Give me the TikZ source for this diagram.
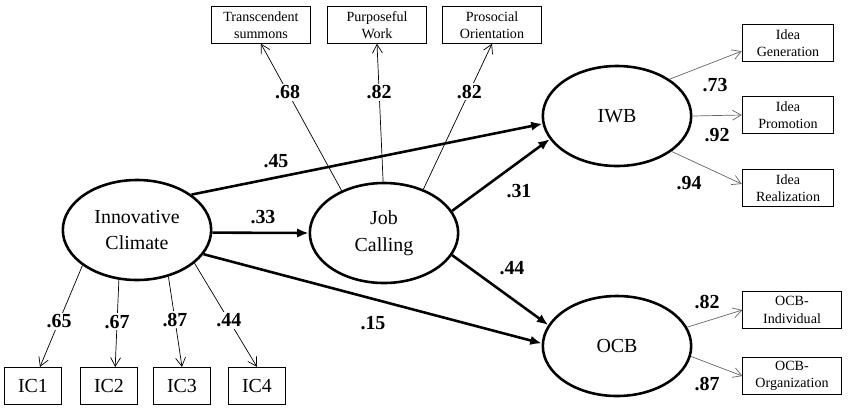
\documentclass[tikz,border=0pt]{standalone}
\usepackage{fontspec}
\setmainfont{Liberation Serif}
\usetikzlibrary{arrows.meta,shapes.geometric}

\begin{document}
\begin{tikzpicture}[x=0.03cm, y=-0.03cm,
    latent/.style={ellipse, draw, line width=2.2pt, minimum width=4.45cm, minimum height=3cm, align=center, font=\fontsize{17}{23}\selectfont},
    indic/.style={rectangle, draw, line width=0.7pt, minimum width=2.95cm, minimum height=1.1cm, align=center, font=\fontsize{12}{15}\selectfont},
    item/.style={rectangle, draw, line width=0.7pt, minimum width=1.72cm, minimum height=1.12cm, font=\fontsize{17}{20}\selectfont},
    causal/.style={line width=2.2pt, -{Latex[length=3.4mm,width=2.8mm]}},
    load/.style={line width=0.6pt, -{Straight Barb[length=2.6mm,width=3mm]}},
    greyload/.style={load, draw=black!60},
    lbl/.style={font=\fontsize{17}{20}\selectfont\bfseries, inner sep=1.5pt},
    cut/.style={lbl, fill=white}]
    \useasboundingbox (0,0) rectangle (850,412);

    \node[latent] (climate) at (137,230) {Innovative\\Climate};
    \node[latent] (calling) at (384,233) {Job\\Calling};
    \node[latent] (iwb) at (617,116) {IWB};
    \node[latent] (ocb) at (617,346) {OCB};

    \node[indic] (transcendent) at (261,25) {Transcendent\\summons};
    \node[indic] (purposeful) at (377,25) {Purposeful\\Work};
    \node[indic] (prosocial) at (492,25) {Prosocial\\Orientation};

    \node[indic, minimum width=2.75cm] (generation) at (788,43) {Idea\\Generation};
    \node[indic, minimum width=2.75cm] (promotion) at (788,115) {Idea\\Promotion};
    \node[indic, minimum width=2.75cm] (realization) at (788,188) {Idea\\Realization};

    \node[indic] (individual) at (792,310) {OCB-\\Individual};
    \node[indic] (organization) at (792,376) {OCB-\\Organization};

    \node[item] (ic1) at (33,386) {IC1};
    \node[item] (ic2) at (109,386) {IC2};
    \node[item] (ic3) at (182,386) {IC3};
    \node[item] (ic4) at (257,386) {IC4};

    \draw[causal] (climate.358) -- (calling.west);
    \draw[causal] (climate.33) -- (iwb.186);
    \draw[causal] (climate.340) -- (ocb.178);
    \draw[causal] (calling.18) -- (iwb.199);
    \draw[causal] (calling.342) -- (ocb.163);

    \node[lbl] at (276,161) {.45};
    \node[lbl] at (263,217) {.33};
    \node[lbl] at (519,191) {.31};
    \node[lbl] at (512,268) {.44};
    \node[lbl] at (373,323) {.15};

    \draw[load] (climate.213) -- node[cut, pos=0.55] {.65} (ic1.70);
    \draw[load] (climate.250) -- node[cut, pos=0.48] {.67} (ic2.72);
    \draw[load] (climate.304) -- node[cut, pos=0.48] {.87} (ic3.north);
    \draw[load] (climate.330) -- node[cut, pos=0.55] {.44} (ic4.north);

    \draw[load] (calling.135) -- node[cut, pos=0.67] {.68} (transcendent.south);
    \draw[load] (calling.91) -- node[cut, pos=0.65] {.82} (purposeful.south);
    \draw[load] (calling.48) -- node[cut, pos=0.67] {.82} (prosocial.south);

    \draw[greyload] (iwb.35) -- (generation.190);
    \draw[greyload] (iwb.east) -- (promotion.west);
    \draw[greyload] (iwb.327) -- (realization.175);
    \draw[greyload] (ocb.15) -- (individual.west);
    \draw[greyload] (ocb.352) -- (organization.west);

    \node[lbl] at (715,85) {.73};
    \node[lbl] at (717,135) {.92};
    \node[lbl] at (689,183) {.94};
    \node[lbl] at (707,302) {.82};
    \node[lbl] at (707,384) {.87};
\end{tikzpicture}
\end{document}
